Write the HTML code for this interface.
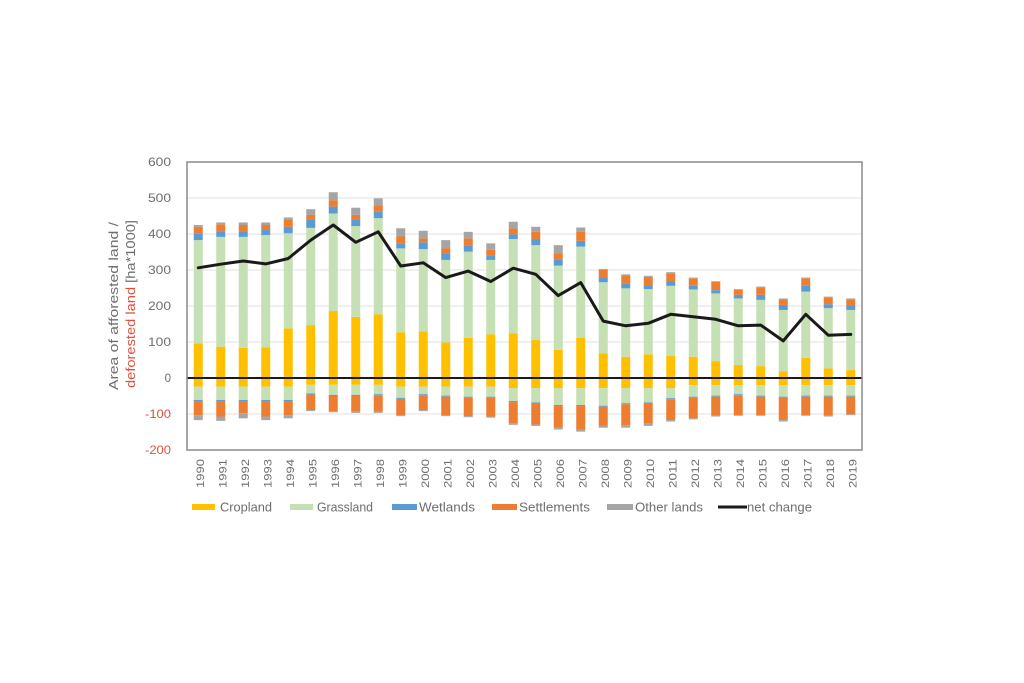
<!DOCTYPE html>
<html>
<head>
<meta charset="utf-8">
<style>
html,body{margin:0;padding:0;background:#fff;}
svg{display:block;}
.c{fill:#FFC000}.g{fill:#C5E0B4}.w{fill:#5B9BD5}.s{fill:#ED7D31}.o{fill:#A5A5A5}
text{font-family:"Liberation Sans",sans-serif;}
</style>
</head>
<body>
<svg width="1024" height="683" viewBox="0 0 1024 683" xmlns="http://www.w3.org/2000/svg">
<rect x="0" y="0" width="1024" height="683" fill="#fff"/>
<!-- gridlines -->
<g stroke="#e0e0e0" stroke-width="1">
<line x1="187" y1="198" x2="862" y2="198"/>
<line x1="187" y1="234" x2="862" y2="234"/>
<line x1="187" y1="270" x2="862" y2="270"/>
<line x1="187" y1="306" x2="862" y2="306"/>
<line x1="187" y1="342" x2="862" y2="342"/>
<line x1="187" y1="414" x2="862" y2="414"/>
</g>
<!-- bars -->
<g transform="translate(0,378) scale(1,-0.36)">
<g transform="translate(193.75,0)"><rect class="c" width="9" y="-24" height="120"/><rect class="g" width="9" y="96" height="287"/><rect class="w" width="9" y="383" height="19"/><rect class="s" width="9" y="402" height="18"/><rect class="o" width="9" y="420" height="5"/><rect class="g" width="9" y="-61" height="37"/><rect class="w" width="9" y="-64" height="3"/><rect class="s" width="9" y="-103" height="39"/><rect class="o" width="9" y="-117" height="14"/></g>
<g transform="translate(216.25,0)"><rect class="c" width="9" y="-24" height="111"/><rect class="g" width="9" y="87" height="305"/><rect class="w" width="9" y="392" height="16"/><rect class="s" width="9" y="408" height="19"/><rect class="o" width="9" y="427" height="5"/><rect class="g" width="9" y="-61" height="37"/><rect class="w" width="9" y="-64" height="3"/><rect class="s" width="9" y="-107" height="43"/><rect class="o" width="9" y="-119" height="12"/></g>
<g transform="translate(238.75,0)"><rect class="c" width="9" y="-24" height="108"/><rect class="g" width="9" y="84" height="308"/><rect class="w" width="9" y="392" height="16"/><rect class="s" width="9" y="408" height="17"/><rect class="o" width="9" y="425" height="7"/><rect class="g" width="9" y="-61" height="37"/><rect class="w" width="9" y="-64" height="3"/><rect class="s" width="9" y="-98" height="34"/><rect class="o" width="9" y="-112" height="14"/></g>
<g transform="translate(261.25,0)"><rect class="c" width="9" y="-24" height="109"/><rect class="g" width="9" y="85" height="312"/><rect class="w" width="9" y="397" height="14"/><rect class="s" width="9" y="411" height="14"/><rect class="o" width="9" y="425" height="7"/><rect class="g" width="9" y="-61" height="37"/><rect class="w" width="9" y="-64" height="3"/><rect class="s" width="9" y="-107" height="43"/><rect class="o" width="9" y="-117" height="10"/></g>
<g transform="translate(283.75,0)"><rect class="c" width="9" y="-24" height="162"/><rect class="g" width="9" y="138" height="264"/><rect class="w" width="9" y="402" height="18"/><rect class="s" width="9" y="420" height="21"/><rect class="o" width="9" y="441" height="5"/><rect class="g" width="9" y="-61" height="37"/><rect class="w" width="9" y="-64" height="3"/><rect class="s" width="9" y="-103" height="39"/><rect class="o" width="9" y="-112" height="9"/></g>
<g transform="translate(306.25,0)"><rect class="c" width="9" y="-19" height="166"/><rect class="g" width="9" y="147" height="270"/><rect class="w" width="9" y="417" height="22"/><rect class="s" width="9" y="439" height="14"/><rect class="o" width="9" y="453" height="16"/><rect class="g" width="9" y="-43" height="24"/><rect class="w" width="9" y="-46" height="3"/><rect class="s" width="9" y="-89" height="43"/><rect class="o" width="9" y="-92" height="3"/></g>
<g transform="translate(328.75,0)"><rect class="c" width="9" y="-19" height="205"/><rect class="g" width="9" y="186" height="271"/><rect class="w" width="9" y="457" height="19"/><rect class="s" width="9" y="476" height="18"/><rect class="o" width="9" y="494" height="22"/><rect class="g" width="9" y="-47" height="28"/><rect class="w" width="9" y="-50" height="3"/><rect class="s" width="9" y="-92" height="42"/><rect class="o" width="9" y="-95" height="3"/></g>
<g transform="translate(351.25,0)"><rect class="c" width="9" y="-19" height="189"/><rect class="g" width="9" y="170" height="252"/><rect class="w" width="9" y="422" height="17"/><rect class="s" width="9" y="439" height="14"/><rect class="o" width="9" y="453" height="20"/><rect class="g" width="9" y="-47" height="28"/><rect class="w" width="9" y="-50" height="3"/><rect class="s" width="9" y="-94" height="44"/><rect class="o" width="9" y="-97" height="3"/></g>
<g transform="translate(373.75,0)"><rect class="c" width="9" y="-19" height="196"/><rect class="g" width="9" y="177" height="267"/><rect class="w" width="9" y="444" height="18"/><rect class="s" width="9" y="462" height="17"/><rect class="o" width="9" y="479" height="20"/><rect class="g" width="9" y="-45" height="26"/><rect class="w" width="9" y="-48" height="3"/><rect class="s" width="9" y="-94" height="46"/><rect class="o" width="9" y="-97" height="3"/></g>
<g transform="translate(396.25,0)"><rect class="c" width="9" y="-24" height="151"/><rect class="g" width="9" y="127" height="233"/><rect class="w" width="9" y="360" height="14"/><rect class="s" width="9" y="374" height="19"/><rect class="o" width="9" y="393" height="23"/><rect class="g" width="9" y="-55" height="31"/><rect class="w" width="9" y="-58" height="3"/><rect class="s" width="9" y="-103" height="45"/><rect class="o" width="9" y="-106" height="3"/></g>
<g transform="translate(418.75,0)"><rect class="c" width="9" y="-24" height="153"/><rect class="g" width="9" y="129" height="229"/><rect class="w" width="9" y="358" height="19"/><rect class="s" width="9" y="377" height="11"/><rect class="o" width="9" y="388" height="21"/><rect class="g" width="9" y="-45" height="21"/><rect class="w" width="9" y="-48" height="3"/><rect class="s" width="9" y="-89" height="41"/><rect class="o" width="9" y="-92" height="3"/></g>
<g transform="translate(441.25,0)"><rect class="c" width="9" y="-24" height="123"/><rect class="g" width="9" y="99" height="229"/><rect class="w" width="9" y="328" height="18"/><rect class="s" width="9" y="346" height="14"/><rect class="o" width="9" y="360" height="23"/><rect class="g" width="9" y="-49" height="25"/><rect class="w" width="9" y="-52" height="3"/><rect class="s" width="9" y="-103" height="51"/><rect class="o" width="9" y="-106" height="3"/></g>
<g transform="translate(463.75,0)"><rect class="c" width="9" y="-24" height="136"/><rect class="g" width="9" y="112" height="239"/><rect class="w" width="9" y="351" height="18"/><rect class="s" width="9" y="369" height="19"/><rect class="o" width="9" y="388" height="18"/><rect class="g" width="9" y="-52" height="28"/><rect class="w" width="9" y="-55" height="3"/><rect class="s" width="9" y="-106" height="51"/><rect class="o" width="9" y="-109" height="3"/></g>
<g transform="translate(486.25,0)"><rect class="c" width="9" y="-24" height="145"/><rect class="g" width="9" y="121" height="207"/><rect class="w" width="9" y="328" height="12"/><rect class="s" width="9" y="340" height="16"/><rect class="o" width="9" y="356" height="18"/><rect class="g" width="9" y="-52" height="28"/><rect class="w" width="9" y="-55" height="3"/><rect class="s" width="9" y="-107" height="52"/><rect class="o" width="9" y="-110" height="3"/></g>
<g transform="translate(508.75,0)"><rect class="c" width="9" y="-28" height="152"/><rect class="g" width="9" y="124" height="262"/><rect class="w" width="9" y="386" height="13"/><rect class="s" width="9" y="399" height="17"/><rect class="o" width="9" y="416" height="18"/><rect class="g" width="9" y="-64" height="36"/><rect class="w" width="9" y="-67" height="3"/><rect class="s" width="9" y="-126" height="59"/><rect class="o" width="9" y="-130" height="4"/></g>
<g transform="translate(531.25,0)"><rect class="c" width="9" y="-28" height="134"/><rect class="g" width="9" y="106" height="263"/><rect class="w" width="9" y="369" height="17"/><rect class="s" width="9" y="386" height="20"/><rect class="o" width="9" y="406" height="14"/><rect class="g" width="9" y="-68" height="40"/><rect class="w" width="9" y="-71" height="3"/><rect class="s" width="9" y="-129" height="58"/><rect class="o" width="9" y="-133" height="4"/></g>
<g transform="translate(553.75,0)"><rect class="c" width="9" y="-28" height="106"/><rect class="g" width="9" y="78" height="234"/><rect class="w" width="9" y="312" height="18"/><rect class="s" width="9" y="330" height="16"/><rect class="o" width="9" y="346" height="23"/><rect class="g" width="9" y="-75" height="47"/><rect class="w" width="9" y="-78" height="3"/><rect class="s" width="9" y="-138" height="60"/><rect class="o" width="9" y="-143" height="5"/></g>
<g transform="translate(576.25,0)"><rect class="c" width="9" y="-28" height="140"/><rect class="g" width="9" y="112" height="253"/><rect class="w" width="9" y="365" height="16"/><rect class="s" width="9" y="381" height="25"/><rect class="o" width="9" y="406" height="12"/><rect class="g" width="9" y="-75" height="47"/><rect class="w" width="9" y="-78" height="3"/><rect class="s" width="9" y="-144" height="66"/><rect class="o" width="9" y="-149" height="5"/></g>
<g transform="translate(598.75,0)"><rect class="c" width="9" y="-28" height="97"/><rect class="g" width="9" y="69" height="197"/><rect class="w" width="9" y="266" height="13"/><rect class="s" width="9" y="279" height="21"/><rect class="o" width="9" y="300" height="3"/><rect class="g" width="9" y="-77" height="49"/><rect class="w" width="9" y="-80" height="3"/><rect class="s" width="9" y="-132" height="52"/><rect class="o" width="9" y="-138" height="6"/></g>
<g transform="translate(621.25,0)"><rect class="c" width="9" y="-28" height="87"/><rect class="g" width="9" y="59" height="190"/><rect class="w" width="9" y="249" height="14"/><rect class="s" width="9" y="263" height="22"/><rect class="o" width="9" y="285" height="3"/><rect class="g" width="9" y="-70" height="42"/><rect class="w" width="9" y="-73" height="3"/><rect class="s" width="9" y="-131" height="58"/><rect class="o" width="9" y="-138" height="7"/></g>
<g transform="translate(643.75,0)"><rect class="c" width="9" y="-28" height="94"/><rect class="g" width="9" y="66" height="181"/><rect class="w" width="9" y="247" height="11"/><rect class="s" width="9" y="258" height="23"/><rect class="o" width="9" y="281" height="3"/><rect class="g" width="9" y="-68" height="40"/><rect class="w" width="9" y="-71" height="3"/><rect class="s" width="9" y="-126" height="55"/><rect class="o" width="9" y="-133" height="7"/></g>
<g transform="translate(666.25,0)"><rect class="c" width="9" y="-28" height="89"/><rect class="g" width="9" y="61" height="195"/><rect class="w" width="9" y="256" height="12"/><rect class="s" width="9" y="268" height="23"/><rect class="o" width="9" y="291" height="3"/><rect class="g" width="9" y="-56" height="28"/><rect class="w" width="9" y="-59" height="3"/><rect class="s" width="9" y="-117" height="58"/><rect class="o" width="9" y="-121" height="4"/></g>
<g transform="translate(688.75,0)"><rect class="c" width="9" y="-20" height="79"/><rect class="g" width="9" y="59" height="187"/><rect class="w" width="9" y="246" height="10"/><rect class="s" width="9" y="256" height="21"/><rect class="o" width="9" y="277" height="2"/><rect class="g" width="9" y="-52" height="32"/><rect class="w" width="9" y="-55" height="3"/><rect class="s" width="9" y="-112" height="57"/><rect class="o" width="9" y="-115" height="3"/></g>
<g transform="translate(711.25,0)"><rect class="c" width="9" y="-20" height="67"/><rect class="g" width="9" y="47" height="188"/><rect class="w" width="9" y="235" height="9"/><rect class="s" width="9" y="244" height="23"/><rect class="o" width="9" y="267" height="2"/><rect class="g" width="9" y="-49" height="29"/><rect class="w" width="9" y="-52" height="3"/><rect class="s" width="9" y="-105" height="53"/><rect class="o" width="9" y="-107" height="2"/></g>
<g transform="translate(733.75,0)"><rect class="c" width="9" y="-20" height="56"/><rect class="g" width="9" y="36" height="185"/><rect class="w" width="9" y="221" height="10"/><rect class="s" width="9" y="231" height="14"/><rect class="o" width="9" y="245" height="2"/><rect class="g" width="9" y="-45" height="25"/><rect class="w" width="9" y="-48" height="3"/><rect class="s" width="9" y="-103" height="55"/><rect class="o" width="9" y="-105" height="2"/></g>
<g transform="translate(756.25,0)"><rect class="c" width="9" y="-20" height="53"/><rect class="g" width="9" y="33" height="184"/><rect class="w" width="9" y="217" height="14"/><rect class="s" width="9" y="231" height="21"/><rect class="o" width="9" y="252" height="2"/><rect class="g" width="9" y="-49" height="29"/><rect class="w" width="9" y="-52" height="3"/><rect class="s" width="9" y="-103" height="51"/><rect class="o" width="9" y="-105" height="2"/></g>
<g transform="translate(778.75,0)"><rect class="c" width="9" y="-20" height="39"/><rect class="g" width="9" y="19" height="170"/><rect class="w" width="9" y="189" height="14"/><rect class="s" width="9" y="203" height="16"/><rect class="o" width="9" y="219" height="2"/><rect class="g" width="9" y="-52" height="32"/><rect class="w" width="9" y="-55" height="3"/><rect class="s" width="9" y="-117" height="62"/><rect class="o" width="9" y="-121" height="4"/></g>
<g transform="translate(801.25,0)"><rect class="c" width="9" y="-20" height="76"/><rect class="g" width="9" y="56" height="184"/><rect class="w" width="9" y="240" height="16"/><rect class="s" width="9" y="256" height="21"/><rect class="o" width="9" y="277" height="2"/><rect class="g" width="9" y="-49" height="29"/><rect class="w" width="9" y="-52" height="3"/><rect class="s" width="9" y="-103" height="51"/><rect class="o" width="9" y="-105" height="2"/></g>
<g transform="translate(823.75,0)"><rect class="c" width="9" y="-20" height="47"/><rect class="g" width="9" y="27" height="167"/><rect class="w" width="9" y="194" height="11"/><rect class="s" width="9" y="205" height="19"/><rect class="o" width="9" y="224" height="2"/><rect class="g" width="9" y="-49" height="29"/><rect class="w" width="9" y="-52" height="3"/><rect class="s" width="9" y="-105" height="53"/><rect class="o" width="9" y="-107" height="2"/></g>
<g transform="translate(846.25,0)"><rect class="c" width="9" y="-20" height="42"/><rect class="g" width="9" y="22" height="167"/><rect class="w" width="9" y="189" height="11"/><rect class="s" width="9" y="200" height="19"/><rect class="o" width="9" y="219" height="2"/><rect class="g" width="9" y="-49" height="29"/><rect class="w" width="9" y="-52" height="3"/><rect class="s" width="9" y="-101" height="49"/><rect class="o" width="9" y="-103" height="2"/></g>
</g>
<!-- zero line -->
<line x1="187" y1="378" x2="862" y2="378" stroke="#1a1a1a" stroke-width="2"/>
<!-- net change -->
<polyline fill="none" stroke="#1a1a1a" stroke-width="3" stroke-linejoin="round" stroke-linecap="round" points="198.25,267.8 220.75,264.2 243.25,261 265.75,263.9 288.25,258.5 310.75,240.1 333.25,225 355.75,242.3 378.25,231.8 400.75,266 423.25,262.8 445.75,277.6 468.25,271.1 490.75,281.5 513.25,268.2 535.75,274.3 558.25,295.6 580.75,282.6 603.25,321.1 625.75,325.8 648.25,323.3 670.75,314.3 693.25,316.8 715.75,319.3 738.25,325.8 760.75,325.1 783.25,340.9 805.75,314.3 828.25,335.2 850.75,334.4"/>
<!-- frame -->
<rect x="187" y="162" width="675" height="288" fill="none" stroke="#8a8a8a" stroke-width="1.5"/>
<!-- y tick labels -->
<g font-size="11.5" fill="#6e6e6e" text-anchor="end">
<text x="171" y="166" textLength="23" lengthAdjust="spacingAndGlyphs">600</text>
<text x="171" y="202" textLength="23" lengthAdjust="spacingAndGlyphs">500</text>
<text x="171" y="238" textLength="23" lengthAdjust="spacingAndGlyphs">400</text>
<text x="171" y="274" textLength="23" lengthAdjust="spacingAndGlyphs">300</text>
<text x="171" y="310" textLength="23" lengthAdjust="spacingAndGlyphs">200</text>
<text x="171" y="346" textLength="23" lengthAdjust="spacingAndGlyphs">100</text>
<text x="171" y="382">0</text>
<text x="171" y="418" fill="#e0503c" textLength="26" lengthAdjust="spacingAndGlyphs">-100</text>
<text x="171" y="454" fill="#e0503c" textLength="26" lengthAdjust="spacingAndGlyphs">-200</text>
</g>
<!-- y axis title -->
<text transform="translate(118,306) rotate(-90)" text-anchor="middle" font-size="13" fill="#6e6e6e" textLength="168" lengthAdjust="spacingAndGlyphs">Area of afforested land /</text>
<text transform="translate(135,304) rotate(-90)" text-anchor="middle" font-size="13" fill="#6e6e6e" textLength="168" lengthAdjust="spacingAndGlyphs"><tspan fill="#e0503c">deforested land</tspan> [ha*1000]</text>
<!-- x labels -->
<g font-size="11" fill="#6e6e6e">
<text transform="translate(204,488) rotate(-90)" textLength="29" lengthAdjust="spacingAndGlyphs">1990</text>
<text transform="translate(226.5,488) rotate(-90)" textLength="29" lengthAdjust="spacingAndGlyphs">1991</text>
<text transform="translate(249,488) rotate(-90)" textLength="29" lengthAdjust="spacingAndGlyphs">1992</text>
<text transform="translate(271.5,488) rotate(-90)" textLength="29" lengthAdjust="spacingAndGlyphs">1993</text>
<text transform="translate(294,488) rotate(-90)" textLength="29" lengthAdjust="spacingAndGlyphs">1994</text>
<text transform="translate(316.5,488) rotate(-90)" textLength="29" lengthAdjust="spacingAndGlyphs">1995</text>
<text transform="translate(339,488) rotate(-90)" textLength="29" lengthAdjust="spacingAndGlyphs">1996</text>
<text transform="translate(361.5,488) rotate(-90)" textLength="29" lengthAdjust="spacingAndGlyphs">1997</text>
<text transform="translate(384,488) rotate(-90)" textLength="29" lengthAdjust="spacingAndGlyphs">1998</text>
<text transform="translate(406.5,488) rotate(-90)" textLength="29" lengthAdjust="spacingAndGlyphs">1999</text>
<text transform="translate(429,488) rotate(-90)" textLength="29" lengthAdjust="spacingAndGlyphs">2000</text>
<text transform="translate(451.5,488) rotate(-90)" textLength="29" lengthAdjust="spacingAndGlyphs">2001</text>
<text transform="translate(474,488) rotate(-90)" textLength="29" lengthAdjust="spacingAndGlyphs">2002</text>
<text transform="translate(496.5,488) rotate(-90)" textLength="29" lengthAdjust="spacingAndGlyphs">2003</text>
<text transform="translate(519,488) rotate(-90)" textLength="29" lengthAdjust="spacingAndGlyphs">2004</text>
<text transform="translate(541.5,488) rotate(-90)" textLength="29" lengthAdjust="spacingAndGlyphs">2005</text>
<text transform="translate(564,488) rotate(-90)" textLength="29" lengthAdjust="spacingAndGlyphs">2006</text>
<text transform="translate(586.5,488) rotate(-90)" textLength="29" lengthAdjust="spacingAndGlyphs">2007</text>
<text transform="translate(609,488) rotate(-90)" textLength="29" lengthAdjust="spacingAndGlyphs">2008</text>
<text transform="translate(631.5,488) rotate(-90)" textLength="29" lengthAdjust="spacingAndGlyphs">2009</text>
<text transform="translate(654,488) rotate(-90)" textLength="29" lengthAdjust="spacingAndGlyphs">2010</text>
<text transform="translate(676.5,488) rotate(-90)" textLength="29" lengthAdjust="spacingAndGlyphs">2011</text>
<text transform="translate(699,488) rotate(-90)" textLength="29" lengthAdjust="spacingAndGlyphs">2012</text>
<text transform="translate(721.5,488) rotate(-90)" textLength="29" lengthAdjust="spacingAndGlyphs">2013</text>
<text transform="translate(744,488) rotate(-90)" textLength="29" lengthAdjust="spacingAndGlyphs">2014</text>
<text transform="translate(766.5,488) rotate(-90)" textLength="29" lengthAdjust="spacingAndGlyphs">2015</text>
<text transform="translate(789,488) rotate(-90)" textLength="29" lengthAdjust="spacingAndGlyphs">2016</text>
<text transform="translate(811.5,488) rotate(-90)" textLength="29" lengthAdjust="spacingAndGlyphs">2017</text>
<text transform="translate(834,488) rotate(-90)" textLength="29" lengthAdjust="spacingAndGlyphs">2018</text>
<text transform="translate(856.5,488) rotate(-90)" textLength="29" lengthAdjust="spacingAndGlyphs">2019</text>
</g>
<!-- legend -->
<rect class="c" x="192" y="504" width="23" height="6"/>
<rect class="g" x="290" y="504" width="23" height="6"/>
<rect class="w" x="392" y="504" width="25" height="6"/>
<rect class="s" x="492" y="504" width="25" height="6"/>
<rect class="o" x="607" y="504" width="26" height="6"/>
<line x1="718" y1="507" x2="747" y2="507" stroke="#1a1a1a" stroke-width="3"/>
<g font-size="12.5" fill="#6e6e6e">
<text x="220" y="511.5" textLength="52" lengthAdjust="spacingAndGlyphs">Cropland</text>
<text x="317" y="511.5" textLength="56" lengthAdjust="spacingAndGlyphs">Grassland</text>
<text x="419" y="511.5" textLength="56" lengthAdjust="spacingAndGlyphs">Wetlands</text>
<text x="519" y="511.5" textLength="71" lengthAdjust="spacingAndGlyphs">Settlements</text>
<text x="635" y="511.5" textLength="68" lengthAdjust="spacingAndGlyphs">Other lands</text>
<text x="747" y="511.5" textLength="65" lengthAdjust="spacingAndGlyphs">net change</text>
</g>
</svg>
</body>
</html>
